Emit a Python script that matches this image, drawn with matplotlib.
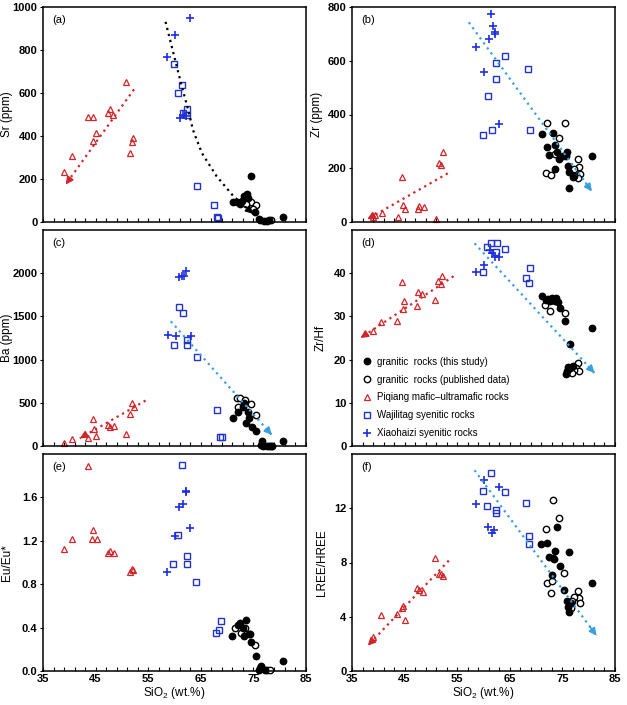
import numpy as np
import matplotlib
matplotlib.use("Agg")
import matplotlib.pyplot as plt
from matplotlib.ticker import FixedLocator, FixedFormatter

plt.rcParams['font.family'] = ['Liberation Sans', 'DejaVu Sans']
plt.rcParams['mathtext.fontset'] = 'custom'
plt.rcParams['mathtext.rm'] = 'Liberation Sans'

# ---- data (SiO2 in wt.%) ----
# (a) Sr
a_pq_x = [39.0, 40.6, 43.6, 44.6, 45.0, 44.5, 47.7, 47.4, 48.3, 50.8, 51.5, 52.0, 52.2]
a_pq_y = [233, 309, 488, 488, 414, 378, 526, 506, 498, 653, 321, 370, 390]
a_wj_x = [59.9, 61.5, 60.7, 62.4, 62.3, 61.7, 64.2, 67.5, 68.0, 68.3]
a_wj_y = [735, 637, 599, 525, 498, 506, 167, 77, 25, 19]
a_xh_x = [63.0, 60.1, 58.6, 61.0, 61.7, 62.1]
a_xh_y = [951, 872, 769, 483, 498, 491]
a_gr_x = [74.5, 73.7, 73.2, 71.2, 71.8, 72.5, 74.0, 75.3, 76.0, 76.3, 77.0, 77.9, 80.7, 72.9]
a_gr_y = [213, 130, 122, 94, 91, 83, 110, 46, 15, 9, 5, 8, 22, 100]
a_pub_x = [74.5, 75.5, 75.0, 77.5, 78.3, 73.5]
a_pub_y = [91, 79, 60, 6, 8, 85]

# (b) Zr
b_pq_x = [39.0, 39.3, 40.7, 44.5, 43.7, 44.7, 45.1, 47.5, 47.7, 48.6, 50.9, 51.6, 52.0, 52.3]
b_pq_y = [19, 25, 35, 166, 19, 64, 47, 47, 60, 57, 10, 220, 213, 260]
b_wj_x = [64.1, 62.4, 62.4, 60.8, 68.5, 59.9, 61.6, 68.9]
b_wj_y = [618, 593, 532, 469, 568, 324, 341, 342]
b_xh_x = [61.5, 61.8, 62.1, 62.1, 61.0, 58.6, 60.1, 63.0]
b_xh_y = [774, 728, 706, 700, 680, 650, 559, 363]
b_gr_x = [71.1, 72.0, 73.2, 72.4, 73.5, 74.0, 74.4, 73.6, 75.1, 75.9, 76.0, 76.3, 76.2, 77.1, 80.6, 75.7]
b_gr_y = [328, 278, 332, 250, 285, 260, 235, 197, 247, 262, 210, 187, 126, 166, 245, 247]
b_pub_x = [72.1, 75.4, 74.4, 73.5, 71.9, 72.8, 77.9, 78.2, 77.3, 78.4, 77.9, 77.3]
b_pub_y = [368, 368, 313, 253, 182, 175, 235, 206, 197, 178, 163, 172]

# (c) Ba
c_pq_x = [39.0, 40.6, 43.6, 44.5, 44.7, 45.0, 47.4, 47.7, 48.5, 50.8, 51.5, 52.0, 52.3]
c_pq_y = [31, 77, 89, 309, 193, 116, 244, 224, 236, 139, 367, 495, 456]
c_wj_x = [60.8, 61.6, 62.4, 62.4, 59.9, 64.2, 68.0, 68.7, 69.0]
c_wj_y = [1605, 1540, 1230, 1172, 1164, 1025, 418, 101, 108]
c_xh_x = [62.2, 61.4, 61.9, 60.9, 58.7, 60.2, 63.1]
c_xh_y = [2031, 1965, 1973, 1957, 1288, 1269, 1277]
c_gr_x = [71.1, 72.1, 73.0, 73.9, 73.5, 74.1, 74.7, 75.5, 76.6, 76.4, 76.9, 77.5, 78.3, 80.7, 73.2]
c_gr_y = [329, 398, 456, 398, 263, 321, 224, 174, 62, 12, 0, 5, 5, 62, 495]
c_pub_x = [71.8, 72.5, 73.4, 72.0, 74.5, 75.5, 78.0, 78.5]
c_pub_y = [553, 553, 534, 456, 483, 360, 5, 5]

# (d) Zr/Hf
d_pq_x = [39.0, 40.6, 43.6, 44.7, 44.9, 44.6, 47.3, 47.6, 48.4, 50.8, 51.4, 51.9, 52.2]
d_pq_y = [26.7, 28.7, 28.9, 31.7, 33.5, 38.0, 32.3, 35.6, 35.3, 33.9, 38.1, 37.4, 39.3]
d_wj_x = [60.6, 61.5, 62.5, 62.3, 64.0, 59.9, 68.8, 68.0, 68.6]
d_wj_y = [46.1, 46.9, 47.0, 44.9, 45.5, 40.3, 41.1, 38.9, 37.8]
d_xh_x = [58.5, 60.0, 61.2, 61.7, 62.1, 62.9]
d_xh_y = [40.2, 41.8, 45.3, 44.7, 43.8, 43.8]
d_gr_x = [71.1, 71.9, 72.6, 73.1, 73.8, 74.2, 73.5, 74.5, 75.4, 76.4, 80.6, 76.0, 75.8, 75.7, 76.4, 77.0, 72.3]
d_gr_y = [34.8, 33.9, 33.5, 34.3, 34.3, 33.3, 33.5, 32.0, 28.9, 23.6, 27.2, 18.4, 17.3, 16.6, 18.0, 18.6, 34.0]
d_pub_x = [71.6, 72.6, 75.4, 77.9, 77.6, 78.2, 77.3, 76.8]
d_pub_y = [32.7, 31.2, 30.8, 19.3, 18.0, 17.3, 17.7, 17.0]

# (e) Eu/Eu*
e_pq_x = [39.0, 40.6, 43.6, 44.5, 44.4, 45.2, 47.4, 47.7, 48.5, 51.5, 52.0, 52.2]
e_pq_y = [1.12, 1.22, 1.89, 1.30, 1.22, 1.22, 1.09, 1.11, 1.09, 0.91, 0.94, 0.93]
e_wj_x = [61.5, 60.7, 62.3, 62.3, 59.8, 64.1, 68.8, 68.5, 67.9]
e_wj_y = [1.90, 1.25, 1.06, 0.99, 0.99, 0.82, 0.46, 0.38, 0.35]
e_xh_x = [62.1, 61.7, 60.9, 60.1, 63.0, 58.6, 62.2]
e_xh_y = [1.65, 1.54, 1.51, 1.24, 1.32, 0.91, 1.66]
e_gr_x = [71.0, 72.0, 72.4, 73.6, 73.1, 73.3, 74.1, 74.5, 75.5, 76.4, 76.0, 80.7, 77.2, 76.2]
e_gr_y = [0.32, 0.42, 0.44, 0.47, 0.40, 0.32, 0.34, 0.27, 0.14, 0.05, 0.01, 0.09, 0.01, 0.03]
e_pub_x = [71.5, 72.6, 73.4, 75.3, 74.4, 77.6, 78.2]
e_pub_y = [0.40, 0.35, 0.40, 0.24, 0.34, 0.01, 0.01]

# (f) LREE/HREE
f_pq_x = [39.0, 40.6, 43.6, 44.5, 44.7, 45.0, 47.3, 47.7, 48.5, 50.7, 51.5, 52.0, 52.3]
f_pq_y = [2.49, 4.16, 4.23, 4.68, 4.80, 3.73, 6.15, 5.97, 5.85, 8.34, 7.17, 7.17, 7.04]
f_wj_x = [61.4, 59.9, 64.0, 68.0, 60.6, 62.3, 62.4, 68.7, 68.7]
f_wj_y = [14.6, 13.3, 13.2, 12.4, 12.2, 11.9, 11.65, 9.96, 9.34]
f_xh_x = [60.0, 63.0, 58.5, 60.9, 61.6, 62.0]
f_xh_y = [14.1, 13.6, 12.3, 10.6, 10.2, 10.4]
f_gr_x = [71.0, 72.0, 72.5, 73.2, 73.6, 73.4, 73.9, 74.5, 73.1, 75.3, 76.3, 75.9, 76.0, 76.3, 80.6, 76.6]
f_gr_y = [9.34, 9.46, 8.41, 8.34, 8.84, 8.29, 10.65, 7.77, 7.05, 5.97, 8.79, 5.18, 4.73, 4.36, 6.52, 4.98]
f_pub_x = [73.3, 74.4, 71.8, 75.3, 72.0, 73.0, 72.8, 77.9, 78.1, 78.3, 77.3, 76.9, 76.6]
f_pub_y = [12.6, 11.3, 10.5, 7.22, 6.47, 6.65, 5.73, 5.92, 5.40, 4.98, 5.48, 5.15, 4.61]

# trend arrows (start -> end)
a_red = ([52.3, 39.3], [617, 174])
a_curve = ([58.3, 59.8, 61.4, 62.6, 63.5, 65.2, 68.0, 71.2, 75.0],
           [931, 784, 630, 522, 429, 321, 213, 120, 38])
b_red = ([53.2, 37.9], [181, 10])
b_blue = ([57.2, 80.6], [743, 114])
c_red = ([54.5, 42.0], [526, 89])
c_blue = ([59.3, 78.5], [1443, 128])
d_red = ([54.3, 36.6], [39.3, 25.0])
d_blue = ([58.3, 81.1], [46.9, 16.9])
f_red = ([53.4, 38.0], [8.14, 1.87])
f_blue = ([58.3, 81.5], [14.8, 2.6])

RED = '#d0262a'
BLUE = '#2233cc'
PLUS = '#1f2fe0'
LBLUE = '#3a9fe0'

labels = ['granitic  rocks (this study)', 'granitic  rocks (published data)',
          'Piqiang mafic\u2013ultramafic rocks', 'Wajilitag syenitic rocks',
          'Xiaohaizi syenitic rocks']


def scatter(ax, pq, wj, xh, gr, pub):
    h3, = ax.plot(*pq, ls='none', marker='^', ms=4.8, mfc='none', mec=RED, mew=0.9, clip_on=False)
    h4, = ax.plot(*wj, ls='none', marker='s', ms=4.6, mfc='none', mec=BLUE, mew=1.0, clip_on=False)
    h5, = ax.plot(*xh, ls='none', marker='+', ms=5.2, color=PLUS, mew=1.2, clip_on=False)
    h2, = ax.plot(*pub, ls='none', marker='o', ms=4.6, mfc='white', mec='black', mew=1.0, clip_on=False)
    h1, = ax.plot(*gr, ls='none', marker='o', ms=4.6, color='black', clip_on=False)
    return [h1, h2, h3, h4, h5]


def trend(ax, xs, ys, color):
    ax.plot(xs, ys, ls=(0, (1, 1.8)), color=color, lw=1.6)
    x0, y0 = xs[-2], ys[-2]
    x1, y1 = xs[-1], ys[-1]
    ax.annotate('', xy=(x1, y1), xytext=(x1 - 0.05 * (x1 - x0), y1 - 0.05 * (y1 - y0)),
                arrowprops=dict(arrowstyle='-|>', color=color, lw=1.2,
                                mutation_scale=11, shrinkA=0, shrinkB=0))


W, H = 627, 705
fig = plt.figure(figsize=(W / 100, H / 100), dpi=100)

lefts = [43, 352]
tops = [7, 230, 454]
bottoms = [222, 446, 671]
axw = 263

panels = [
    ('(a)', 'Sr (ppm)', (0, 1000), [0, 200, 400, 600, 800, 1000], -0.114,
     (a_pq_x, a_pq_y), (a_wj_x, a_wj_y), (a_xh_x, a_xh_y), (a_gr_x, a_gr_y), (a_pub_x, a_pub_y)),
    ('(b)', 'Zr (ppm)', (0, 800), [0, 200, 400, 600, 800], -0.109,
     (b_pq_x, b_pq_y), (b_wj_x, b_wj_y), (b_xh_x, b_xh_y), (b_gr_x, b_gr_y), (b_pub_x, b_pub_y)),
    ('(c)', 'Ba (ppm)', (0, 2500), [0, 500, 1000, 1500, 2000], -0.114,
     (c_pq_x, c_pq_y), (c_wj_x, c_wj_y), (c_xh_x, c_xh_y), (c_gr_x, c_gr_y), (c_pub_x, c_pub_y)),
    ('(d)', 'Zr/Hf', (0, 50), [0, 10, 20, 30, 40], -0.096,
     (d_pq_x, d_pq_y), (d_wj_x, d_wj_y), (d_xh_x, d_xh_y), (d_gr_x, d_gr_y), (d_pub_x, d_pub_y)),
    ('(e)', 'Eu/Eu*', (0, 2.0), [0.0, 0.4, 0.8, 1.2, 1.6], -0.114,
     (e_pq_x, e_pq_y), (e_wj_x, e_wj_y), (e_xh_x, e_xh_y), (e_gr_x, e_gr_y), (e_pub_x, e_pub_y)),
    ('(f)', 'LREE/HREE', (0, 16), [0, 4, 8, 12], -0.091,
     (f_pq_x, f_pq_y), (f_wj_x, f_wj_y), (f_xh_x, f_xh_y), (f_gr_x, f_gr_y), (f_pub_x, f_pub_y)),
]

xt = list(range(35, 86, 2))
xlab = [str(v) if (v - 35) % 10 == 0 else '' for v in xt]

axes = []
for i, (tag, ylab, ylim, yt, labx, pq, wj, xh, gr, pub) in enumerate(panels):
    r, c = divmod(i, 2)
    l = lefts[c]
    ax = fig.add_axes([l / W, 1 - bottoms[r] / H, axw / W, (bottoms[r] - tops[r]) / H])
    axes.append(ax)
    handles = scatter(ax, pq, wj, xh, gr, pub)
    ax.set_xlim(35, 85)
    ax.set_ylim(*ylim)
    ax.xaxis.set_major_locator(FixedLocator(xt))
    if r == 2:
        ax.xaxis.set_major_formatter(FixedFormatter(xlab))
        ax.set_xlabel('SiO$_2$ (wt.%)', fontsize=8.5, labelpad=1)
    else:
        ax.xaxis.set_major_formatter(FixedFormatter([''] * len(xt)))
    ax.set_yticks(yt)
    if tag == '(e)':
        ax.set_yticklabels(['%.1f' % v for v in yt])
    ax.tick_params(axis='x', direction='in', length=3, width=0.8, labelsize=8, pad=2)
    ax.tick_params(axis='y', direction='out', length=2.5, width=0.8, labelsize=8, pad=1.5)
    for t in ax.get_xticklabels() + ax.get_yticklabels():
        t.set_fontweight('bold')
    ax.set_ylabel(ylab, fontsize=8.5)
    ax.yaxis.set_label_coords(labx, 0.5)
    for s in ax.spines.values():
        s.set_linewidth(1.1)
    ax.text(0.035, 0.94, tag, transform=ax.transAxes, fontsize=8, va='center')
    if tag == '(d)':
        ax.legend(handles, labels, loc='lower left', bbox_to_anchor=(0.02, 0.01),
                  frameon=False, fontsize=7, handlelength=0.8, handletextpad=0.6,
                  labelspacing=0.8, borderaxespad=0.2)

trend(axes[0], *a_red, RED)
trend(axes[0], *a_curve, 'black')
trend(axes[1], *b_red, RED)
trend(axes[1], *b_blue, LBLUE)
trend(axes[2], *c_red, RED)
trend(axes[2], *c_blue, LBLUE)
trend(axes[3], *d_red, RED)
trend(axes[3], *d_blue, LBLUE)
trend(axes[5], *f_red, RED)
trend(axes[5], *f_blue, LBLUE)

fig.savefig('out.png', dpi=100)
